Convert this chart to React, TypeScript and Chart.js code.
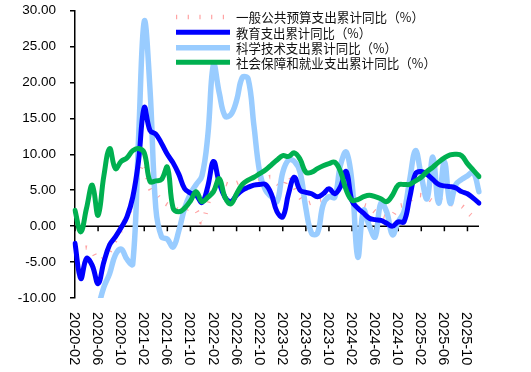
import React, { useEffect, useRef } from 'react';
import { Chart, registerables } from 'chart.js';

Chart.register(...registerables);

const months = [
  '2020-02', '2020-03', '2020-04', '2020-05', '2020-06', '2020-07', '2020-08', '2020-09', '2020-10', '2020-11', '2020-12',
  '2021-01', '2021-02', '2021-03', '2021-04', '2021-05', '2021-06', '2021-07', '2021-08', '2021-09', '2021-10', '2021-11', '2021-12',
  '2022-01', '2022-02', '2022-03', '2022-04', '2022-05', '2022-06', '2022-07', '2022-08', '2022-09', '2022-10', '2022-11', '2022-12',
  '2023-01', '2023-02', '2023-03', '2023-04', '2023-05', '2023-06', '2023-07', '2023-08', '2023-09', '2023-10', '2023-11', '2023-12',
  '2024-01', '2024-02', '2024-03', '2024-04', '2024-05', '2024-06', '2024-07', '2024-08', '2024-09', '2024-10', '2024-11', '2024-12',
  '2025-01', '2025-02', '2025-03', '2025-04', '2025-05', '2025-06', '2025-07', '2025-08', '2025-09', '2025-10', '2025-11', '2025-12',
];

const tickInterval = 4;
const yMin = -10;
const yMax = 30;
const yStep = 5;

const seriesNames = [
  '一般公共预算支出累计同比（%）',
  '教育支出累计同比（%）',
  '科学技术支出累计同比（%）',
  '社会保障和就业支出累计同比（%）',
];

const generalBudget = [
  -2.9, -3.2, -3.0, -3.5, -4.7, -4.5, -3.5, -2.0, -0.5, 1.5,
  2.8, 7.0, 8.8, 5.2, 4.5, 3.6, 3.0, 2.7, 2.2, 2.3,
  2.5, 2.2, 0.5, 3.0, 6.0, 5.9, 5.9, 5.7, 6.0, 6.3,
  6.4, 6.2, 6.4, 6.6, 6.8, 6.0, 5.4, 7.0, 5.5, 4.0,
  3.2, 3.3, 3.5, 3.7, 4.0, 5.0, 5.5, 7.3, 4.5, 3.5,
  3.0, 2.7, 2.0, 1.5, 1.3, 1.5, 2.7, 3.0, 3.6, 4.2,
  4.3, 4.0, 3.5, 3.7, 3.4, 3.1, 3.0, 2.8, 2.0, 1.3,
  1.0,
];

const education = [
  -2.4, -7.3, -4.5, -5.5, -8.0, -5.0, -2.6, -1.5, -0.2, 1.3,
  4.0, 9.0, 16.5, 13.3, 12.8, 11.5, 10.0, 8.8, 7.2, 5.2,
  4.6, 4.3, 3.3, 5.5, 9.0, 6.0, 4.0, 3.4, 4.3, 5.0,
  5.4, 5.7, 5.8, 5.8, 4.5, 2.0, 1.3, 4.5, 6.8, 5.0,
  4.7, 4.5, 4.1, 4.5, 5.2, 4.5, 5.5, 7.6, 3.5, 2.5,
  1.8, 1.1, 0.9, 0.8, 0.4, 0.0, 0.6, 0.6, 4.0, 7.3,
  7.6, 7.2, 6.5, 5.8, 5.6, 5.5, 5.3, 4.8, 4.5, 3.9,
  3.2,
];

const science = [
  -25.0, -22.0, -20.0, -16.0, -11.5, -8.5, -6.6, -4.0, -3.2, -4.6,
  -5.3, 12.0, 28.5, 19.0, 2.5, -1.5, -1.8, -2.9, -0.6, 2.5,
  4.5, 5.8, 7.0, 12.5, 22.5, 18.5, 15.3, 15.5, 17.5, 20.7,
  20.5, 14.0, 7.5, 5.0, 4.1, 3.4, 7.5, 9.2, 9.0, 7.5,
  2.5, -1.0, -1.0, 3.0, 4.1, 4.0, 8.5, 10.3, 6.0, -4.3,
  2.2, 0.0, -1.5, 3.2, 2.0, -1.2, 0.6, 2.0, 6.5, 10.5,
  7.0, 3.8, 9.6, 3.2, 9.0, 3.2, 5.8, 6.5, 7.0, 7.5,
  4.8,
];

const socialSecurity = [
  2.2, -0.8, 2.5, 5.7, 1.5, 7.0, 10.8, 8.0, 9.0, 9.5,
  10.5, 10.8, 10.2, 6.2, 6.3, 6.5, 8.2, 2.5, 2.0, 2.5,
  3.5, 4.8, 3.4, 4.0, 4.8, 6.6, 4.0, 3.1, 4.5, 5.8,
  6.4, 6.8, 7.3, 7.8, 8.5, 9.2, 9.8, 9.7, 10.2, 9.3,
  7.5, 7.5, 8.0, 8.4, 8.7, 8.9, 7.6, 5.0, 3.6, 3.7,
  4.1, 4.3, 4.1, 3.8, 3.4, 4.3, 5.7, 5.8, 5.8, 6.3,
  6.8, 7.6, 8.2, 8.9, 9.5, 9.9, 10.0, 9.8, 8.7, 7.8,
  6.9,
];

const seriesColors = ['#FFA3A3', '#0000FF', '#99CCFF', '#00B050'];
const seriesWidths = [4.5, 5, 5.5, 5];
const legendTextWidths = [188, 135, 161, 200];

const customPlugin = {
  id: 'customAxisLegend',
  beforeDatasetsDraw(chart: any) {
    const { ctx, chartArea, scales } = chart;
    const x = scales.x;
    const y = scales.y;
    const y0 = y.getPixelForValue(0);
    ctx.save();
    ctx.strokeStyle = '#000';
    ctx.lineWidth = 1.5;
    ctx.beginPath();
    ctx.moveTo(chartArea.left, y0);
    ctx.lineTo(chartArea.right, y0);
    ctx.stroke();
    ctx.beginPath();
    for (let i = 0; i < months.length; i += tickInterval) {
      const px = x.getPixelForValue(i);
      ctx.moveTo(px, y0);
      ctx.lineTo(px, y0 + 5);
    }
    ctx.stroke();
    ctx.restore();
  },
  afterDraw(chart: any) {
    const { ctx, scales } = chart;
    const x = scales.x;
    ctx.save();
    ctx.font = '14.5px "Liberation Sans", Arial, sans-serif';
    ctx.fillStyle = '#000';
    ctx.textAlign = 'left';
    ctx.textBaseline = 'middle';
    for (let i = 0; i < months.length; i += tickInterval) {
      const px = x.getPixelForValue(i);
      ctx.save();
      ctx.translate(px - 1, 312);
      ctx.rotate(Math.PI / 2);
      ctx.fillText(months[i], 0, 0);
      ctx.restore();
    }
    ctx.restore();

    // legend
    const rowsY = [17, 32.3, 47.7, 62.3];
    const sx0 = 176;
    const sx1 = 230;
    const tx = 236;
    ctx.save();
    for (let k = 0; k < seriesNames.length; k++) {
      const ry = rowsY[k];
      ctx.beginPath();
      ctx.strokeStyle = seriesColors[k];
      ctx.lineWidth = seriesWidths[k];
      ctx.lineCap = 'butt';
      if (k === 0) {
        ctx.setLineDash([1.2, 10.5]);
      } else {
        ctx.setLineDash([]);
      }
      ctx.moveTo(sx0, ry);
      ctx.lineTo(sx1, ry);
      ctx.stroke();
      ctx.setLineDash([]);
      ctx.font = '13px "Noto Sans CJK SC", sans-serif';
      ctx.fillStyle = '#111';
      ctx.textAlign = 'left';
      ctx.textBaseline = 'middle';
      ctx.fillText(seriesNames[k], tx, ry + 0.5, legendTextWidths[k]);
    }
    ctx.restore();
  },
};

export default function App() {
  const canvasRef = useRef<HTMLCanvasElement | null>(null);

  useEffect(() => {
    const canvas = canvasRef.current;
    if (!canvas) return;
    const seriesData = [generalBudget, education, science, socialSecurity];
    const orders = [4, 2, 3, 1];
    const chart = new Chart(canvas, {
      type: 'line',
      data: {
        labels: months,
        datasets: seriesNames.map((name, k) => ({
          label: name,
          data: seriesData[k],
          borderColor: seriesColors[k],
          backgroundColor: seriesColors[k],
          borderWidth: seriesWidths[k],
          borderDash: k === 0 ? [1.2, 10] : [],
          borderCapStyle: k === 0 ? 'butt' : 'round',
          borderJoinStyle: 'round',
          pointRadius: 0,
          tension: 0.4,
          fill: false,
          order: orders[k],
        })),
      },
      options: {
        responsive: false,
        animation: false,
        events: [],
        layout: { padding: { top: 10.5, right: 52, left: 0, bottom: 0 } },
        elements: { line: { capBezierPoints: false } },
        plugins: {
          legend: { display: false },
          tooltip: { enabled: false },
          title: { display: false },
        },
        scales: {
          x: {
            type: 'category',
            offset: false,
            ticks: { display: false },
            grid: { display: false },
            border: { display: false },
            afterFit(scale: any) {
              scale.height = 74;
              scale.paddingLeft = 0;
              scale.paddingRight = 0;
            },
          },
          y: {
            min: yMin,
            max: yMax,
            ticks: {
              stepSize: yStep,
              padding: 14,
              color: '#000',
              font: { family: '"Liberation Sans", Arial, sans-serif', size: 13.5 },
              callback: (v: any) => Number(v).toFixed(2),
            },
            grid: {
              display: true,
              drawOnChartArea: false,
              drawTicks: true,
              tickLength: 5,
              color: '#000',
              lineWidth: 1.5,
            },
            border: { display: true, color: '#000', width: 1.5 },
            afterFit(scale: any) {
              scale.width = 75;
              scale.paddingTop = 0;
              scale.paddingBottom = 0;
            },
          },
        },
      },
      plugins: [customPlugin],
    } as any);
    return () => {
      chart.destroy();
    };
  }, []);

  return (
    <div style={{ position: 'fixed', left: 0, top: 0, width: 531, height: 372, background: '#fff' }}>
      <canvas ref={canvasRef} width={531} height={372} style={{ display: 'block' }} />
    </div>
  );
}
